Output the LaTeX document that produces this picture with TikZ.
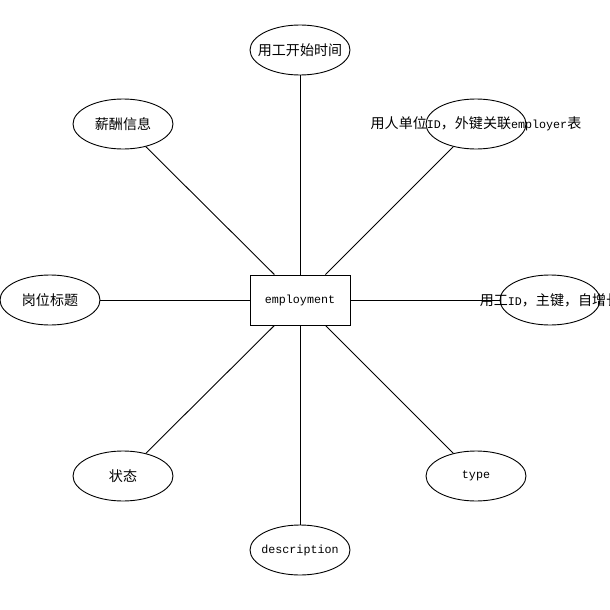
\documentclass[tikz,border=0pt]{standalone}
\usepackage{fontspec}
\setmainfont{Liberation Mono}
\newfontfamily\cjk[Scale=1.2]{Noto Sans CJK SC}
\newcommand{\zh}[1]{{\cjk #1}}
\usetikzlibrary{shapes.geometric}

\begin{document}
\begin{tikzpicture}[x=1pt,y=-1pt,line width=0.9pt,
	every node/.style={font=\fontsize{11.7}{14}\selectfont},
	attr/.style={draw,ellipse,inner sep=0pt,minimum width=100pt,minimum height=50pt},
	entity/.style={draw,rectangle,inner sep=0pt,minimum width=100pt,minimum height=50pt}]
					\useasboundingbox (0,0) rectangle (610,610);

					% entity
					\node[entity] (emp) at (300,300) {employment};

					% attributes
					\node[attr] (start) at (300,50) {\makebox[0pt]{\zh{用工开始时间}}};
					\node[attr] (salary) at (123,124) {\makebox[0pt]{\zh{薪酬信息}}};
					\node[attr] (employer) at (476,124) {\makebox[0pt]{\zh{用人单位}ID\zh{，外键关联}employer\zh{表}}};
					\node[attr] (title) at (50,300) {\makebox[0pt]{\zh{岗位标题}}};
					\node[attr] (id) at (550,300) {\makebox[0pt]{\zh{用工}ID\zh{，主键，自增长}}};
					\node[attr] (status) at (123,476) {\makebox[0pt]{\zh{状态}}};
					\node[attr] (type) at (476,476) {\makebox[0pt]{type}};
					\node[attr] (desc) at (300,550) {\makebox[0pt]{description}};

					% links
					\draw (emp) -- (start);
					\draw (emp) -- (salary);
					\draw (emp) -- (employer);
					\draw (emp) -- (title);
					\draw (emp) -- (id);
					\draw (emp) -- (status);
					\draw (emp) -- (type);
					\draw (emp) -- (desc);
				\end{tikzpicture}
\end{document}
